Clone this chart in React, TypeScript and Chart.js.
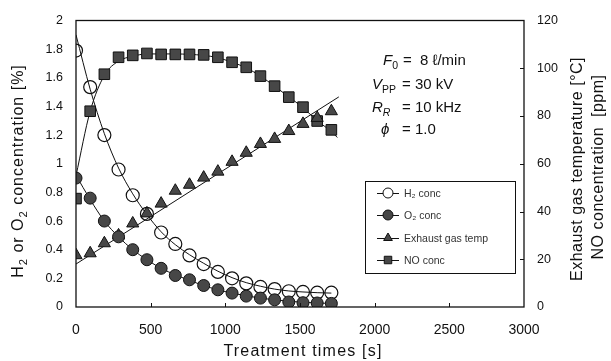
import React, { useEffect, useRef } from "react";
import { Chart, registerables } from "chart.js";

Chart.register(...registerables);

// ---- data ----
const times = [0, 95, 190, 285, 380, 475, 570, 665, 760, 855, 950, 1045, 1140, 1235, 1330, 1425, 1520, 1615, 1710];
const h2Conc = [1.79, 1.535, 1.2, 0.96, 0.78, 0.65, 0.52, 0.44, 0.36, 0.3, 0.245, 0.2, 0.165, 0.14, 0.125, 0.11, 0.105, 0.1, 0.1];
const o2Conc = [0.9, 0.76, 0.6, 0.49, 0.4, 0.33, 0.27, 0.22, 0.19, 0.15, 0.12, 0.097, 0.076, 0.062, 0.05, 0.035, 0.03, 0.028, 0.025];
const exhaustTemp = [21.7, 22.5, 26.7, 30, 35, 39.2, 43.3, 48.7, 51.2, 54.2, 56.7, 60.8, 64.6, 68.3, 70.4, 73.7, 76.7, 79.2, 82];
const noConc = [45.4, 82, 97.5, 104.6, 105.4, 106.2, 105.8, 105.8, 105.8, 105.6, 104.6, 102.5, 100.4, 96.7, 92.5, 87.9, 83.7, 77.9, 74.2];

// fitted curves
const h2FitTimes = [0, 95, 190, 285, 380, 475, 570, 665, 760, 855, 950, 1045, 1140, 1235, 1330, 1425, 1520, 1615, 1710];
const h2Fit = [1.9, 1.52, 1.21, 0.97, 0.79, 0.645, 0.525, 0.435, 0.365, 0.305, 0.25, 0.205, 0.17, 0.145, 0.125, 0.112, 0.105, 0.1, 0.097];
const o2FitTimes = [0, 95, 190, 285, 380, 475, 570, 665, 760, 855, 950, 1045, 1140, 1235, 1330, 1425, 1520, 1615, 1710];
const o2Fit = [0.92, 0.75, 0.6, 0.49, 0.4, 0.33, 0.27, 0.225, 0.185, 0.15, 0.12, 0.097, 0.078, 0.062, 0.05, 0.04, 0.033, 0.028, 0.025];
const noFitTimes = [0, 95, 190, 285, 380, 475, 570, 665, 760, 855, 950, 1045, 1140, 1235, 1330, 1425, 1520, 1615, 1710, 1750];
const noFit = [55, 82, 97, 103, 105, 106, 106, 106, 105.8, 105.4, 104.4, 102.5, 100.2, 96.7, 92.5, 88, 83.5, 78, 73.5, 71];
const tempFitTimes = [0, 1760];
const tempFit = [18, 88];

const xTicks = [0, 500, 1000, 1500, 2000, 2500, 3000];
const leftTicks = [0, 0.2, 0.4, 0.6, 0.8, 1, 1.2, 1.4, 1.6, 1.8, 2];
const rightTicks = [0, 20, 40, 60, 80, 100, 120];

const legendLabels = ["H\u2082 conc", "O\u2082 conc", "Exhaust gas temp", "NO conc"];

const FONT = "'Liberation Sans', Arial, sans-serif";
const INK = "#111";
const GREY = "#474747";

type Part = { t: string; italic?: boolean; sub?: boolean };

function richWidth(ctx: CanvasRenderingContext2D, parts: Part[], size: number) {
  let w = 0;
  for (const p of parts) {
    const fs = p.sub ? size * 0.7 : size;
    ctx.font = `${p.italic ? "italic " : ""}${fs}px ${FONT}`;
    w += ctx.measureText(p.t).width;
  }
  return w;
}

function drawRich(ctx: CanvasRenderingContext2D, x: number, y: number, parts: Part[], size: number) {
  let cx = x;
  for (const p of parts) {
    const fs = p.sub ? size * 0.7 : size;
    ctx.font = `${p.italic ? "italic " : ""}${fs}px ${FONT}`;
    ctx.fillText(p.t, cx, p.sub ? y + size * 0.28 : y);
    cx += ctx.measureText(p.t).width;
  }
  return cx;
}

function drawMarker(ctx: CanvasRenderingContext2D, kind: string, x: number, y: number, r: number) {
  ctx.save();
  ctx.lineWidth = 1;
  ctx.strokeStyle = INK;
  ctx.beginPath();
  if (kind === "circleOpen" || kind === "circle") {
    ctx.arc(x, y, r, 0, Math.PI * 2);
  } else if (kind === "triangle") {
    const h = r * 1.5;
    ctx.moveTo(x, y - r);
    ctx.lineTo(x + r * 0.87, y + h - r);
    ctx.lineTo(x - r * 0.87, y + h - r);
    ctx.closePath();
  } else {
    const s = r * 0.75;
    ctx.rect(x - s, y - s, 2 * s, 2 * s);
  }
  ctx.fillStyle = kind === "circleOpen" ? "#fff" : GREY;
  ctx.fill();
  ctx.stroke();
  ctx.restore();
}

function drawRotated(ctx: CanvasRenderingContext2D, cx: number, cy: number, parts: Part[], size: number, spacing: number) {
  ctx.save();
  (ctx as any).letterSpacing = `${spacing}px`;
  ctx.translate(cx, cy);
  ctx.rotate(-Math.PI / 2);
  const w = richWidth(ctx, parts, size);
  drawRich(ctx, -w / 2, 0, parts, size);
  ctx.restore();
}

const decorPlugin = {
  id: "decor",
  afterDraw(chart: any) {
    const ctx: CanvasRenderingContext2D = chart.ctx;
    const a = chart.chartArea;
    const xs = chart.scales.x;
    const yr = chart.scales.y1;
    ctx.save();
    // frame
    ctx.strokeStyle = INK;
    ctx.lineWidth = 1.3;
    ctx.strokeRect(a.left, a.top, a.right - a.left, a.bottom - a.top);
    // inner ticks
    ctx.lineWidth = 1;
    ctx.beginPath();
    for (const v of xTicks.slice(1, -1)) {
      const px = Math.round(xs.getPixelForValue(v)) + 0.5;
      ctx.moveTo(px, a.bottom);
      ctx.lineTo(px, a.bottom - 4);
    }
    for (const v of rightTicks.slice(1, -1)) {
      const py = Math.round(yr.getPixelForValue(v)) + 0.5;
      ctx.moveTo(a.right, py);
      ctx.lineTo(a.right - 4, py);
    }
    ctx.stroke();

    ctx.fillStyle = INK;
    ctx.textBaseline = "alphabetic";
    ctx.textAlign = "left";

    // conditions annotation
    const S = 15;
    drawRich(ctx, 383, 65, [{ t: "F", italic: true }, { t: "0", sub: true }], S);
    drawRich(ctx, 403, 65, [{ t: "=  8 \u2113/min" }], S);
    drawRich(ctx, 372, 89, [{ t: "V", italic: true }, { t: "PP", sub: true }], S);
    drawRich(ctx, 402, 89, [{ t: "= 30 kV" }], S);
    drawRich(ctx, 372, 112, [{ t: "R", italic: true }, { t: "R", italic: true, sub: true }], S);
    drawRich(ctx, 402, 112, [{ t: "= 10 kHz" }], S);
    drawRich(ctx, 381, 134, [{ t: "\u03D5", italic: true }], S);
    drawRich(ctx, 402, 134, [{ t: "= 1.0" }], S);

    // legend box
    ctx.lineWidth = 1;
    ctx.strokeStyle = INK;
    ctx.fillStyle = "#fff";
    ctx.fillRect(365, 181, 150, 92);
    ctx.strokeRect(365.5, 181.5, 150, 92);
    const kinds = ["circleOpen", "circle", "triangle", "rect"];
    const rows = [193, 215, 238, 260];
    for (let i = 0; i < 4; i++) {
      ctx.beginPath();
      ctx.moveTo(377, rows[i] + 0.5);
      ctx.lineTo(399, rows[i] + 0.5);
      ctx.stroke();
      drawMarker(ctx, kinds[i], 388, rows[i], 5);
      ctx.fillStyle = "#333";
      ctx.font = `10.5px ${FONT}`;
      ctx.textBaseline = "middle";
      ctx.fillText(legendLabels[i], 404, rows[i] + 1);
    }

    // axis titles
    ctx.fillStyle = INK;
    ctx.textBaseline = "middle";
    drawRotated(ctx, 19, 171, [
      { t: "H" }, { t: "2", sub: true }, { t: " or O" }, { t: "2", sub: true }, { t: " concentration [%]" },
    ], 16, 1);
    drawRotated(ctx, 578, 169, [{ t: "Exhaust gas temperature [\u00B0C]" }], 16, 0.5);
    drawRotated(ctx, 599, 167, [{ t: "NO concentration  [ppm]" }], 16, 0.5);

    ctx.save();
    (ctx as any).letterSpacing = "1.2px";
    ctx.textAlign = "center";
    ctx.font = `16px ${FONT}`;
    ctx.fillText("Treatment times [s]", 303, 352);
    ctx.restore();
    ctx.restore();
  },
};

const pts = (xs: number[], ys: number[]) => xs.map((x, i) => ({ x, y: ys[i] }));

export default function App() {
  const ref = useRef<HTMLCanvasElement | null>(null);

  useEffect(() => {
    if (!ref.current) return;
    const markerBase = { showLine: false, borderColor: INK, borderWidth: 1 };
    const fitBase = {
      showLine: true,
      pointRadius: 0,
      borderColor: INK,
      borderWidth: 1,
      backgroundColor: INK,
      fill: false,
      cubicInterpolationMode: "monotone" as const,
    };
    const chart = new Chart(ref.current, {
      type: "scatter",
      data: {
        datasets: [
          { ...markerBase, label: "O2 conc", data: pts(times, o2Conc), yAxisID: "y", pointStyle: "circle", pointRadius: 6, backgroundColor: GREY },
          { ...markerBase, label: "H2 conc", data: pts(times, h2Conc), yAxisID: "y", pointStyle: "circle", pointRadius: 6.5, backgroundColor: "rgba(255,255,255,0)", borderWidth: 1.2 },
          { ...markerBase, label: "Exhaust gas temp", data: pts(times, exhaustTemp), yAxisID: "y1", pointStyle: "triangle", pointRadius: 7, backgroundColor: GREY },
          { ...markerBase, label: "NO conc", data: pts(times, noConc), yAxisID: "y1", pointStyle: "rect", pointRadius: 7.5, backgroundColor: GREY },
          { ...fitBase, label: "H2 fit", data: pts(h2FitTimes, h2Fit), yAxisID: "y" },
          { ...fitBase, label: "O2 fit", data: pts(o2FitTimes, o2Fit), yAxisID: "y" },
          { ...fitBase, label: "NO fit", data: pts(noFitTimes, noFit), yAxisID: "y1" },
          { ...fitBase, label: "Temp fit", data: pts(tempFitTimes, tempFit), yAxisID: "y1", cubicInterpolationMode: "default" as const, tension: 0 },
        ],
      },
      options: {
        responsive: false,
        animation: false,
        layout: { padding: { top: 19, left: 0, right: 0, bottom: 0 } },
        plugins: { legend: { display: false }, tooltip: { enabled: false }, title: { display: false } },
        scales: {
          x: {
            type: "linear",
            min: 0,
            max: 3000,
            grid: { display: false, drawTicks: false },
            border: { display: false },
            afterBuildTicks: (axis: any) => { axis.ticks = xTicks.map((v) => ({ value: v })); },
            afterFit: (axis: any) => { axis.height = 54; },
            ticks: { color: INK, font: { family: FONT, size: 14 }, padding: 15, maxRotation: 0, callback: (v: any) => String(v) },
          },
          y: {
            type: "linear",
            position: "left",
            min: 0,
            max: 2,
            grid: { display: false, drawTicks: false },
            border: { display: false },
            afterBuildTicks: (axis: any) => { axis.ticks = leftTicks.map((v) => ({ value: v })); },
            afterFit: (axis: any) => { axis.width = 76; },
            ticks: { color: INK, font: { family: FONT, size: 12.5 }, padding: 13, callback: (v: any) => String(Math.round(Number(v) * 10) / 10) },
          },
          y1: {
            type: "linear",
            position: "right",
            min: 0,
            max: 120,
            grid: { display: false, drawTicks: false },
            border: { display: false },
            afterBuildTicks: (axis: any) => { axis.ticks = rightTicks.map((v) => ({ value: v })); },
            afterFit: (axis: any) => { axis.width = 87; },
            ticks: { color: INK, font: { family: FONT, size: 12.5 }, padding: 13, callback: (v: any) => String(v) },
          },
        },
      },
      plugins: [decorPlugin],
    } as any);
    return () => chart.destroy();
  }, []);

  return (
    <div style={{ position: "absolute", left: 0, top: 0, width: 611, height: 361, background: "#fff" }}>
      <canvas ref={ref} width={611} height={361} style={{ width: 611, height: 361, display: "block" }} />
    </div>
  );
}
